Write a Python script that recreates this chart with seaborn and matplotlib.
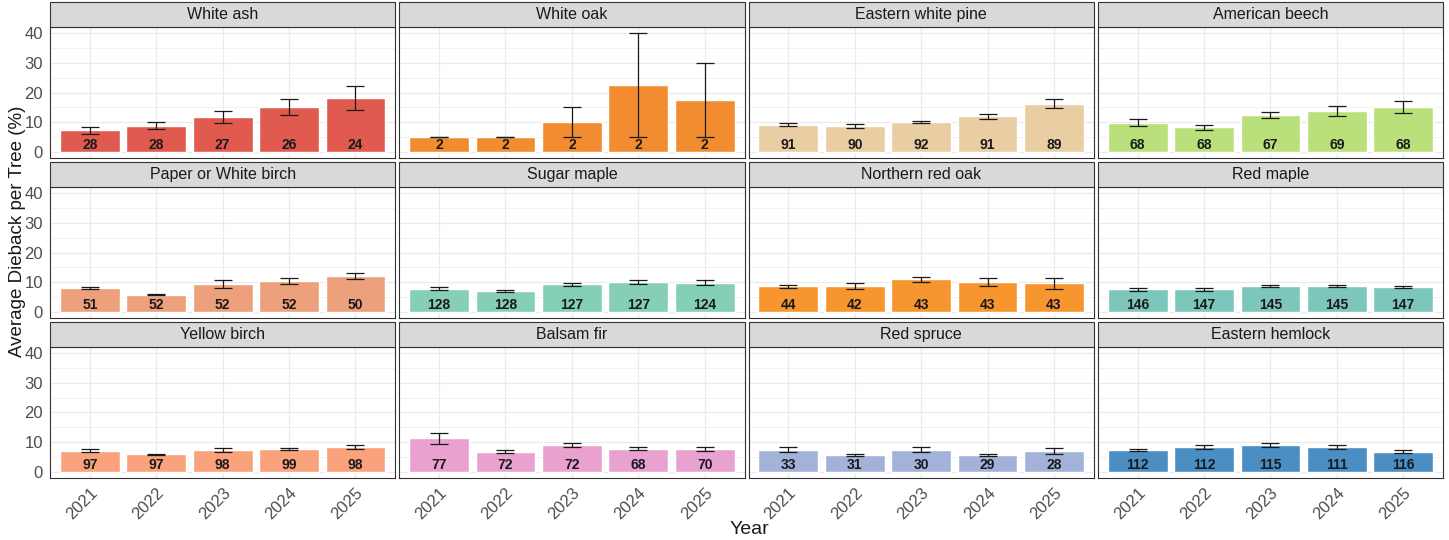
import matplotlib
matplotlib.use("Agg")
import matplotlib.pyplot as plt
from matplotlib.patches import Rectangle
from matplotlib.ticker import MultipleLocator
import numpy as np
import pandas as pd
import seaborn as sns

# Species shown, one facet each, in reading order
species = ["White ash", "White oak", "Eastern white pine", "American beech",
           "Paper or White birch", "Sugar maple", "Northern red oak", "Red maple",
           "Yellow birch", "Balsam fir", "Red spruce", "Eastern hemlock"]
years = ["2021", "2022", "2023", "2024", "2025"]

# Mean dieback (%) per species and year
white_ash = [7.3, 8.8, 11.8, 15.0, 18.2]
white_oak = [5.0, 5.0, 10.0, 22.5, 17.5]
eastern_white_pine = [9.1, 8.8, 10.0, 12.0, 16.3]
american_beech = [9.8, 8.3, 12.3, 13.8, 15.0]
paper_birch = [8.0, 5.8, 9.4, 10.4, 12.2]
sugar_maple = [7.9, 7.0, 9.3, 10.1, 9.9]
northern_red_oak = [8.7, 8.8, 11.0, 10.2, 9.6]
red_maple = [7.6, 7.7, 8.8, 8.8, 8.4]
yellow_birch = [7.2, 6.0, 7.5, 7.8, 8.4]
balsam_fir = [11.3, 6.9, 9.0, 7.8, 7.8]
red_spruce = [7.5, 5.8, 7.5, 5.7, 7.2]
eastern_hemlock = [7.5, 8.5, 9.1, 8.5, 6.9]

# Standard errors of the means
white_ash_se = [1.1, 1.2, 2.1, 2.7, 4.1]
white_oak_se = [0.0, 0.0, 5.0, 17.5, 12.5]
eastern_white_pine_se = [0.5, 0.6, 0.4, 0.9, 1.6]
american_beech_se = [1.2, 0.8, 1.0, 1.6, 2.0]
paper_birch_se = [0.4, 0.2, 1.2, 0.9, 1.0]
sugar_maple_se = [0.6, 0.4, 0.6, 0.6, 0.7]
northern_red_oak_se = [0.5, 1.0, 0.8, 1.3, 1.8]
red_maple_se = [0.5, 0.5, 0.4, 0.4, 0.4]
yellow_birch_se = [0.4, 0.2, 0.6, 0.3, 0.7]
balsam_fir_se = [1.8, 0.6, 0.6, 0.5, 0.6]
red_spruce_se = [0.8, 0.4, 0.8, 0.3, 1.0]
eastern_hemlock_se = [0.4, 0.6, 0.6, 0.6, 0.4]

# Number of trees assessed
white_ash_n = [28, 28, 27, 26, 24]
white_oak_n = [2, 2, 2, 2, 2]
eastern_white_pine_n = [91, 90, 92, 91, 89]
american_beech_n = [68, 68, 67, 69, 68]
paper_birch_n = [51, 52, 52, 52, 50]
sugar_maple_n = [128, 128, 127, 127, 124]
northern_red_oak_n = [44, 42, 43, 43, 43]
red_maple_n = [146, 147, 145, 145, 147]
yellow_birch_n = [97, 97, 98, 99, 98]
balsam_fir_n = [77, 72, 72, 68, 70]
red_spruce_n = [33, 31, 30, 29, 28]
eastern_hemlock_n = [112, 112, 115, 111, 116]

means = [white_ash, white_oak, eastern_white_pine, american_beech, paper_birch,
         sugar_maple, northern_red_oak, red_maple, yellow_birch, balsam_fir,
         red_spruce, eastern_hemlock]
ses = [white_ash_se, white_oak_se, eastern_white_pine_se, american_beech_se,
       paper_birch_se, sugar_maple_se, northern_red_oak_se, red_maple_se,
       yellow_birch_se, balsam_fir_se, red_spruce_se, eastern_hemlock_se]
counts = [white_ash_n, white_oak_n, eastern_white_pine_n, american_beech_n,
          paper_birch_n, sugar_maple_n, northern_red_oak_n, red_maple_n,
          yellow_birch_n, balsam_fir_n, red_spruce_n, eastern_hemlock_n]

colors = ["#E15A4F", "#F28C30", "#E9CDA3", "#B9E07A",
          "#EDA07C", "#84CFB5", "#F7962E", "#7DC6BB",
          "#F9A27C", "#E9A1CF", "#A3B2D8", "#4A8EC3"]

rows = []
for sp, m, s, n in zip(species, means, ses, counts):
    for yr, mv, sv, nv in zip(years, m, s, n):
        rows.append({"species": sp, "year": yr, "mean": mv, "se": sv, "n": nv})
df = pd.DataFrame(rows)

sns.set_theme(style="white")
plt.rcParams["font.family"] = ["Liberation Sans", "DejaVu Sans"]

fig, axes = plt.subplots(3, 4, figsize=(14.49, 5.4), dpi=100, sharex=True, sharey=True)
fig.subplots_adjust(left=0.0345, right=0.9959, top=0.95, bottom=0.1148,
                    wspace=0.0116, hspace=0.221)

grid_col = "#EBEBEB"
for i, (ax, sp, col) in enumerate(zip(axes.flat, species, colors)):
    sub = df[df["species"] == sp]
    sns.barplot(data=sub, x="year", y="mean", order=years, color=col,
                saturation=1, width=0.9, errorbar=None, ax=ax, zorder=2)
    x = np.arange(len(years))
    ax.errorbar(x, sub["mean"], yerr=sub["se"], fmt="none", ecolor="#1A1A1A",
                elinewidth=0.9, capsize=6.5, capthick=0.9, zorder=3)
    for xi, nv in zip(x, sub["n"]):
        ax.text(xi, 2.4, str(nv), ha="center", va="center", fontsize=10,
                fontweight="bold", color="#1A1A1A", zorder=4)

    ax.set_xlim(-0.6, 4.6)
    ax.set_ylim(-2, 42)
    ax.yaxis.set_major_locator(MultipleLocator(10))
    ax.yaxis.set_minor_locator(MultipleLocator(5))
    ax.grid(True, which="major", color=grid_col, linewidth=0.9, zorder=0)
    ax.grid(True, which="minor", axis="y", color=grid_col, linewidth=0.5, zorder=0)
    ax.set_axisbelow(True)
    for spine in ax.spines.values():
        spine.set_color("#333333")
        spine.set_linewidth(0.8)
    ax.set_xlabel("")
    ax.set_ylabel("")
    ax.tick_params(axis="both", which="major", length=3, width=0.7, color="#333333",
                   labelsize=12, labelcolor="#4D4D4D", pad=2)
    ax.tick_params(axis="y", which="minor", length=0)

    # facet strip
    strip = Rectangle((0, 1.0), 1, 0.19, transform=ax.transAxes, clip_on=False,
                      facecolor="#D9D9D9", edgecolor="#333333", linewidth=0.8, zorder=5)
    ax.add_patch(strip)
    ax.text(0.5, 1.095, sp, transform=ax.transAxes, ha="center", va="center",
            fontsize=11.5, color="#1A1A1A", zorder=6)

for ax in axes[-1]:
    ax.set_xticks(range(len(years)))
    ax.set_xticklabels(years, rotation=45, ha="right", rotation_mode="anchor")
    for lbl in ax.get_xticklabels():
        lbl.set_x(lbl.get_position()[0])

fig.text(0.012, 0.572, "Average Dieback per Tree (%)", rotation=90,
         ha="center", va="center", fontsize=13.5, color="#1A1A1A")
fig.text(0.517, 0.02, "Year", ha="center", va="center", fontsize=14, color="#1A1A1A")

fig.savefig("out.png", dpi=100)
